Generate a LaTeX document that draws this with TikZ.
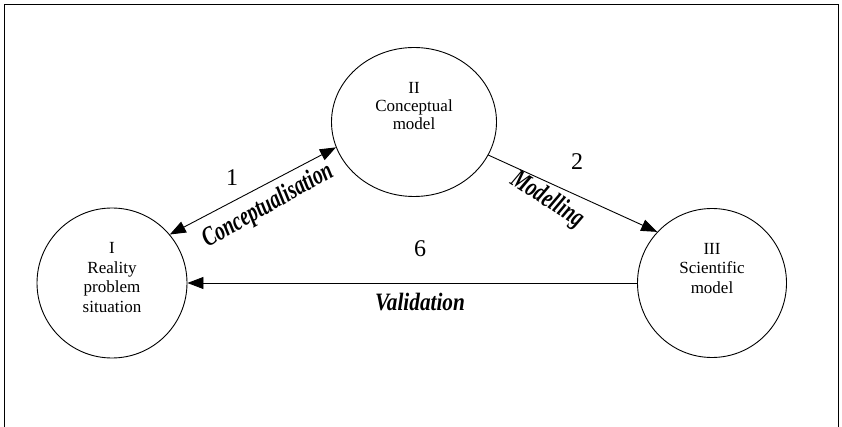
\documentclass[tikz,border=0pt]{standalone}
\usepackage{fontspec}
\setmainfont{Liberation Serif}
\newfontfamily\phasefont[FakeStretch=0.72]{Liberation Serif}
\newfontfamily\valfont[FakeStretch=0.85]{Liberation Serif}
\usetikzlibrary{arrows.meta,shapes.geometric}

\tikzset{
  stage/.style={draw, line width=0.9pt, circle, minimum size=150pt, inner sep=0pt},
  stagetext/.style={anchor=north, inner sep=0pt, align=center,
    font=\fontsize{17}{19.5}\selectfont},
  link/.style={line width=0.9pt, -{Triangle[length=16pt,width=12pt]}},
  biglink/.style={line width=0.9pt, {Triangle[length=16pt,width=12pt]}-{Triangle[length=16pt,width=12pt]}},
  num/.style={inner sep=0pt, font=\fontsize{24}{24}\selectfont},
  phase/.style={inner sep=0pt, font=\phasefont\fontsize{27}{27}\selectfont\bfseries\itshape},
  frameline/.style={line width=0.9pt}
}

\begin{document}
\begin{tikzpicture}[x=1pt, y=-1pt]
  \useasboundingbox (0,0) rectangle (842,427);

  % open frame (no bottom edge)
  \draw[frameline] (4,427) -- (4,4) -- (838,4) -- (838,427);

  % the three stages
  \node[stage] (I) at (112,283) {};
  \node[stage, ellipse, minimum width=165pt, minimum height=149pt] (II) at (414,122) {};
  \node[stage, minimum size=149pt] (III) at (712,283) {};

  \node[stagetext] (tI) at ([yshift=-35pt]I.north) {I\\Reality\\problem\\situation};
  \node[stagetext, font=\fontsize{17}{18}\selectfont] (tII) at ([yshift=-35pt]II.north) {II\\Conceptual\\model};
  \node[stagetext] (tIII) at ([yshift=-35pt]III.north) {III\\Scientific\\model};

  % transitions
  \draw[biglink] (I.40) -- (II.198);
  \draw[link] (II.336) -- (III.137);
  \draw[link] (III.west) -- (I.east);

  % transition labels
  \node[num] (n1) at (232,178) {1};
  \node[phase, rotate=29.5] (p1) at (268,206) {Conceptualisation};
  \node[num] (n2) at (577,162) {2};
  \node[phase, rotate=-33] (p2) at (547,200) {Modelling};
  \node[num] (n6) at (420,249) {6};
  \node[phase, font=\valfont\fontsize{25}{25}\selectfont\bfseries\itshape] (p6) at (420,302) {Validation};
\end{tikzpicture}
\end{document}
